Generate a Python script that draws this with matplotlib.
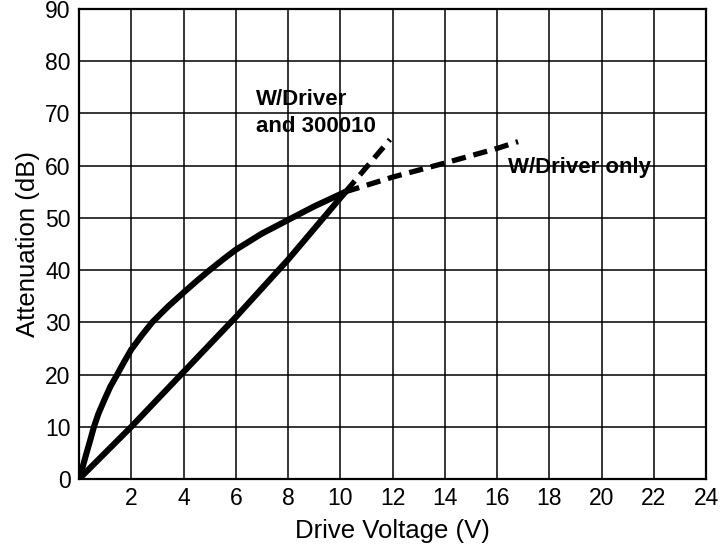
import matplotlib
matplotlib.use('Agg')
import matplotlib.pyplot as plt

# Attenuation vs drive voltage curves
only_x = [0, 0.15, 0.3, 0.45, 0.57, 0.75, 1.0, 1.2, 1.46, 1.7, 2.0, 2.4, 2.8, 3.4, 4.0, 4.5,
          5.0, 5.5, 6.0, 7.0, 8.0, 9.0, 10.2]
only_y = [0, 2.5, 5.2, 7.8, 10, 12.6, 15.5, 17.7, 20, 22.2, 24.8, 27.5, 30, 33, 35.7, 37.9,
          40, 42, 43.9, 47, 49.6, 52.2, 55]
only_dash_x = [10.2, 12, 14, 16, 16.8]
only_dash_y = [55, 57.8, 60.5, 63.3, 64.6]

combo_x = [0, 2, 4, 6, 8, 9.1, 10.2]
combo_y = [0, 10, 20.5, 31, 42, 48.5, 55]
combo_dash_x = [10.2, 11.9]
combo_dash_y = [55, 65]

x_ticks = list(range(0, 25, 2))
x_labels = [''] + [str(v) for v in x_ticks[1:]]
y_ticks = list(range(0, 91, 10))

plt.rcParams['font.family'] = ['Liberation Sans', 'DejaVu Sans']

fig = plt.figure(figsize=(7.25, 5.54), dpi=100)
ax = fig.add_axes([0.109, 0.1354, 0.865, 0.8484])

ax.plot(only_x, only_y, color='black', lw=4.4, solid_capstyle='round', solid_joinstyle='round')
ax.plot(combo_x, combo_y, color='black', lw=4.4, solid_capstyle='round', solid_joinstyle='round')
ax.plot(only_dash_x, only_dash_y, color='black', lw=3.8, dashes=(2.7, 1.5))
ax.plot(combo_dash_x, combo_dash_y, color='black', lw=3.8, dashes=(2.7, 1.5))

ax.text(6.78, 71.6, 'W/Driver', fontsize=16, fontweight='bold', ha='left', va='baseline')
ax.text(6.78, 66.4, 'and 300010', fontsize=16, fontweight='bold', ha='left', va='baseline')
ax.text(16.4, 58.5, 'W/Driver only', fontsize=16, fontweight='bold', ha='left', va='baseline')

ax.set_xlim(0, 24)
ax.set_ylim(0, 90)
ax.set_xticks(x_ticks)
ax.set_xticklabels(x_labels)
ax.set_yticks(y_ticks)
ax.tick_params(length=0, labelsize=16.5, pad=6)
ax.grid(True, color='black', lw=1.1)
ax.set_axisbelow(True)
for s in ax.spines.values():
    s.set_linewidth(1.6)

ax.set_xlabel('Drive Voltage (V)', fontsize=18.5, labelpad=6)
ax.set_ylabel('Attenuation (dB)', fontsize=18.5, labelpad=4)

fig.savefig('out.png', dpi=100, facecolor='white')
